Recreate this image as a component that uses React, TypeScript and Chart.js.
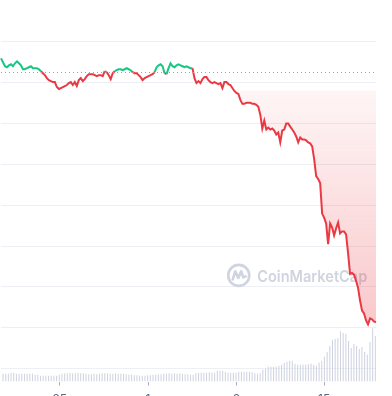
import React, { useEffect, useRef } from "react";
import { Chart, registerables } from "chart.js";

Chart.register(...registerables);

// Price (one point per sample), in chart price units
const priceValues: number[] = [
  8.596, 8.499, 8.402, 8.378, 8.426, 8.450, 8.402, 8.475, 8.523, 8.475,
  8.426, 8.329, 8.329, 8.354, 8.378, 8.402, 8.354, 8.354, 8.354, 8.329,
  8.281, 8.232, 8.184, 8.111, 8.063, 8.039, 8.015, 8.015, 7.893, 7.845,
  7.869, 7.893, 7.918, 7.942, 7.990, 8.015, 7.942, 8.015, 7.918, 8.063,
  8.111, 8.039, 8.087, 8.160, 8.208, 8.208, 8.208, 8.184, 8.160, 8.184,
  8.184, 8.160, 8.281, 8.257, 8.184, 8.087, 8.232, 8.281, 8.305, 8.329,
  8.329, 8.305, 8.329, 8.354, 8.329, 8.305, 8.257, 8.232, 8.232, 8.184,
  8.136, 8.063, 8.111, 8.136, 8.160, 8.184, 8.208, 8.257, 8.378, 8.426,
  8.450, 8.402, 8.232, 8.208, 8.354, 8.475, 8.402, 8.378, 8.426, 8.450,
  8.426, 8.402, 8.378, 8.402, 8.378, 8.354, 8.354, 8.111, 7.990, 8.039,
  7.990, 8.087, 8.136, 8.136, 8.063, 8.015, 7.990, 8.015, 7.990, 7.966,
  7.990, 7.869, 8.015, 8.015, 7.966, 7.942, 7.869, 7.797, 7.748, 7.724,
  7.579, 7.482, 7.482, 7.506, 7.506, 7.506, 7.482, 7.482, 7.458, 7.409,
  7.215, 6.877, 7.070, 6.852, 6.901, 6.852, 6.877, 6.828, 6.731, 6.780,
  6.538, 6.828, 6.852, 6.998, 6.998, 6.925, 6.852, 6.780, 6.683, 6.538,
  6.659, 6.610, 6.610, 6.586, 6.538, 6.513, 6.441, 6.126, 5.714, 5.642,
  5.545, 4.794, 4.697, 4.552, 4.044, 4.552, 4.455, 4.262, 4.431, 4.576,
  4.310, 4.358, 4.358, 4.286, 3.826, 3.317, 3.341, 3.293, 3.148, 2.978,
  2.663, 2.421, 2.349, 2.179, 2.082, 2.228, 2.203, 2.155, 2.131,
];

// Opening price (dotted reference line)
const openPrice = 8.264;

// Volume bars
const volumeValues: number[] = [
  8.3, 8.3, 8.3, 9.4, 9.4, 8.3, 8.3, 8.3, 8.3, 8.3,
  8.3, 8.3, 7.3, 7.3, 6.2, 6.2, 6.2, 6.2, 6.2, 6.2,
  6.2, 7.3, 8.3, 8.8, 8.8, 9.4, 8.8, 8.8, 9.4, 8.8,
  8.8, 8.3, 7.8, 7.8, 8.3, 7.8, 8.3, 8.8, 8.8, 8.8,
  8.3, 8.3, 8.8, 8.3, 8.3, 8.3, 7.8, 7.3, 7.3, 6.8,
  6.8, 6.2, 6.2, 6.2, 6.8, 6.8, 7.3, 7.3, 7.8, 7.8,
  8.3, 8.3, 8.8, 8.3, 8.8, 8.3, 8.8, 8.3, 7.8, 7.8,
  7.3, 7.3, 8.8, 9.4, 9.4, 9.4, 9.4, 9.9, 9.4, 9.4,
  11.4, 11.4, 11.4, 10.4, 9.4, 9.4, 9.4, 9.4, 10.4, 10.4,
  10.4, 10.4, 10.4, 9.9, 8.8, 8.3, 8.8, 12.5, 13.5, 15.6,
  15.6, 15.6, 15.6, 16.6, 17.7, 19.8, 20.8, 21.8, 21.8, 18.7,
  17.7, 17.7, 17.7, 17.7, 18.2, 18.7, 17.7, 16.6, 19.8, 21.8,
  26.0, 31.2, 37.4, 43.7, 44.7, 45.8, 53.0, 51.0, 49.9, 42.6,
  35.4, 39.5, 37.4, 34.3, 36.4, 31.2, 28.1, 41.6, 56.2, 47.8,
];

// Horizontal grid values of the price axis
const priceGridTicks = [1, 2, 3, 4, 5, 6, 7, 8, 9];
// Date ticks (position in price-sample index) and their labels
const dateTickIndex = [29.5, 73.7, 118, 162];
const dateTickLabels = ["25", "1", "8", "15"];

const GREEN = "#16c784";
const RED = "#ea3943";

export default function App() {
  const ref = useRef<HTMLCanvasElement>(null);

  useEffect(() => {
    const canvas = ref.current;
    if (!canvas) return;

    const extras = {
      id: "extras",
      beforeDatasetsDraw(chart: any) {
        const { ctx, chartArea } = chart;
        const w = chartArea.right - chartArea.left;
        const h = chartArea.bottom - chartArea.top;
        const cx = chartArea.left + w * 0.634;
        const cy = chartArea.top + h * 0.721;
        ctx.save();
        ctx.strokeStyle = "#cfd4e0";
        ctx.fillStyle = "#cfd4e0";
        ctx.lineWidth = 2.6;
        ctx.lineCap = "round";
        ctx.lineJoin = "round";
        ctx.beginPath();
        ctx.arc(cx, cy, 10.5, 0, Math.PI * 2);
        ctx.stroke();
        ctx.beginPath();
        ctx.moveTo(cx - 6, cy + 4);
        ctx.lineTo(cx - 3.5, cy - 4);
        ctx.lineTo(cx - 0.5, cy + 2.5);
        ctx.lineTo(cx + 2.5, cy - 4);
        ctx.lineTo(cx + 4.5, cy + 2);
        ctx.lineTo(cx + 7, cy + 1);
        ctx.stroke();
        ctx.font = "600 16px Inter";
        ctx.textBaseline = "middle";
        ctx.textAlign = "left";
        ctx.fillText("CoinMarketCap", cx + 18.5, cy + 1.5, 110);
        ctx.restore();
      },
      afterDatasetsDraw(chart: any) {
        const { ctx, chartArea } = chart;
        const y = Math.round(chart.scales.y.getPixelForValue(openPrice)) + 0.5;
        ctx.save();
        ctx.strokeStyle = "#98a1b3";
        ctx.lineWidth = 1;
        ctx.setLineDash([1, 3]);
        ctx.beginPath();
        ctx.moveTo(chartArea.left, y);
        ctx.lineTo(chartArea.right, y);
        ctx.stroke();
        ctx.restore();
      },
    };

    const chart = new Chart(canvas, {
      type: "line",
      data: {
        datasets: [
          {
            type: "line",
            data: priceValues.map((v, i) => ({ x: i, y: v })),
            xAxisID: "x",
            yAxisID: "y",
            borderColor: RED,
            borderWidth: 2,
            pointRadius: 0,
            tension: 0,
            clip: { left: 2, top: 2, right: 2, bottom: 2 },
            fill: { target: { value: openPrice }, above: "rgba(0,0,0,0)", below: "rgba(234,57,67,0.1)" },
            segment: {
              borderColor: (c: any) =>
                (c.p0.parsed.y + c.p1.parsed.y) / 2 >= openPrice ? GREEN : RED,
            },
            order: 0,
          } as any,
          {
            type: "bar",
            data: volumeValues,
            xAxisID: "xv",
            yAxisID: "yv",
            backgroundColor: "#cfd4e1",
            barPercentage: 0.78,
            categoryPercentage: 1,
            order: 1,
          } as any,
        ],
      },
      options: {
        animation: false,
        responsive: false,
        devicePixelRatio: 1,
        layout: { padding: { left: 0, right: 16, top: 0, bottom: 0 } },
        plugins: { legend: { display: false }, tooltip: { enabled: false } },
        scales: {
          x: {
            type: "linear",
            position: "bottom",
            min: 0,
            max: priceValues.length - 1,
            bounds: "data",
            grid: { drawOnChartArea: false, drawTicks: true, tickLength: 4, tickColor: "#a7afc0", tickWidth: 1 },
            border: { display: false },
            afterBuildTicks: (axis: any) => {
              axis.ticks = dateTickIndex.map((v) => ({ value: v }));
            },
            ticks: {
              autoSkip: false,
              maxRotation: 0,
              padding: 7,
              color: "#58667e",
              font: { family: "Inter", size: 12 },
              callback: (_v: any, i: number) => dateTickLabels[i],
            },
          },
          xv: {
            type: "category",
            display: false,
            offset: true,
            labels: volumeValues.map((_, i) => String(i)),
          },
          y: {
            type: "linear",
            position: "left",
            min: 0.68,
            max: 10,
            bounds: "data",
            border: { display: false },
            grid: { color: "#eceff3", drawTicks: false, lineWidth: 1 },
            afterBuildTicks: (axis: any) => {
              axis.ticks = priceGridTicks.map((v) => ({ value: v }));
            },
            ticks: { display: false },
          },
          yv: {
            type: "linear",
            display: false,
            min: 0,
            max: 400,
          },
        },
      } as any,
      plugins: [extras],
    });

    // Gradient fill below the open price, built from the laid-out scale
    const yScale = chart.scales.y;
    const y0 = yScale.getPixelForValue(openPrice);
    const y1 = yScale.getPixelForValue(2);
    const g = chart.ctx.createLinearGradient(0, y0, 0, y1);
    g.addColorStop(0, "rgba(234,57,67,0)");
    g.addColorStop(0.072, "rgba(234,57,67,0)");
    g.addColorStop(0.08, "rgba(234,57,67,0.05)");
    g.addColorStop(1, "rgba(234,57,67,0.28)");
    (chart.data.datasets[0] as any).fill = {
      target: { value: openPrice },
      above: "rgba(0,0,0,0)",
      below: g,
    };
    chart.update("none");

    return () => chart.destroy();
  }, []);

  return (
    <div
      style={{
        position: "absolute",
        left: 0,
        top: 0,
        width: 392,
        height: 396,
        overflow: "hidden",
        background: "#ffffff",
      }}
    >
      <canvas ref={ref} width={392} height={414} style={{ display: "block", width: 392, height: 414 }} />
    </div>
  );
}
